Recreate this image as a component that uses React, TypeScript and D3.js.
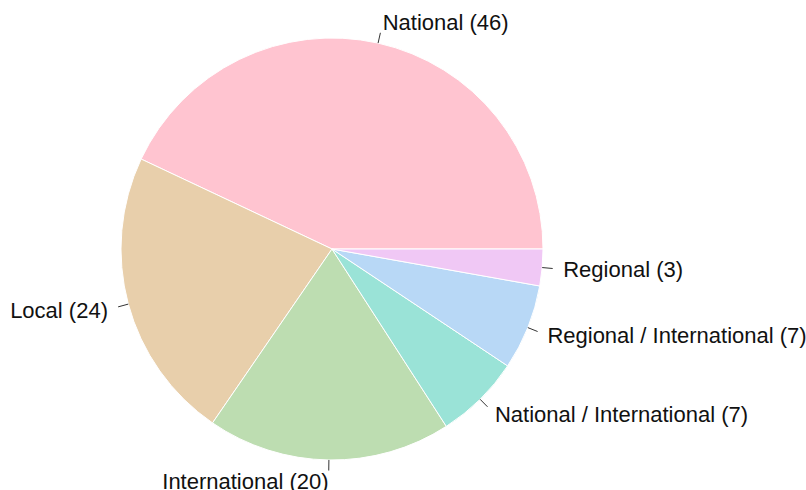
import React from "react";
import * as d3 from "d3";

const categories = ["National", "Local", "International", "National / International", "Regional / International", "Regional"];
const values = [46, 24, 20, 7, 7, 3];
const colors = ["#FFC4D0", "#E8CFAB", "#BDDDB1", "#9AE3D7", "#B8D8F6", "#F0C8F5"];

export default function App() {
  const W = 806, H = 490;
  const cx = 332, cy = 249, R = 211;
  const pie = d3.pie<number>().sort(null).startAngle(Math.PI / 2).endAngle(Math.PI / 2 - 2 * Math.PI);
  const arcs = pie(values);
  const arcGen = d3.arc<d3.PieArcDatum<number>>().innerRadius(0).outerRadius(R);
  return (
    <svg width={W} height={H} style={{ position: "absolute", left: 0, top: 0, background: "#fff" }}>
      <g transform={`translate(${cx},${cy})`}>
        {arcs.map((a, i) => (
          <path key={i} d={arcGen(a) || ""} fill={colors[i]} stroke="#fff" strokeWidth={1} />
        ))}
        {arcs.map((a, i) => {
          const mid = (a.startAngle + a.endAngle) / 2;
          const x = Math.sin(mid), y = -Math.cos(mid);
          const anchor = x < 0 ? "end" : "start";
          return (
            <g key={"l" + i}>
              <line x1={x * R} y1={y * R} x2={x * R * 1.05} y2={y * R * 1.05} stroke="#333" strokeWidth={1} />
              <text x={x * R * 1.1} y={y * R * 1.1} dy="0.36em" textAnchor={anchor}
                fontFamily="Liberation Sans, Arial, sans-serif" fontSize={22} fill="#111">
                {`${categories[i]} (${values[i]})`}
              </text>
            </g>
          );
        })}
      </g>
    </svg>
  );
}
